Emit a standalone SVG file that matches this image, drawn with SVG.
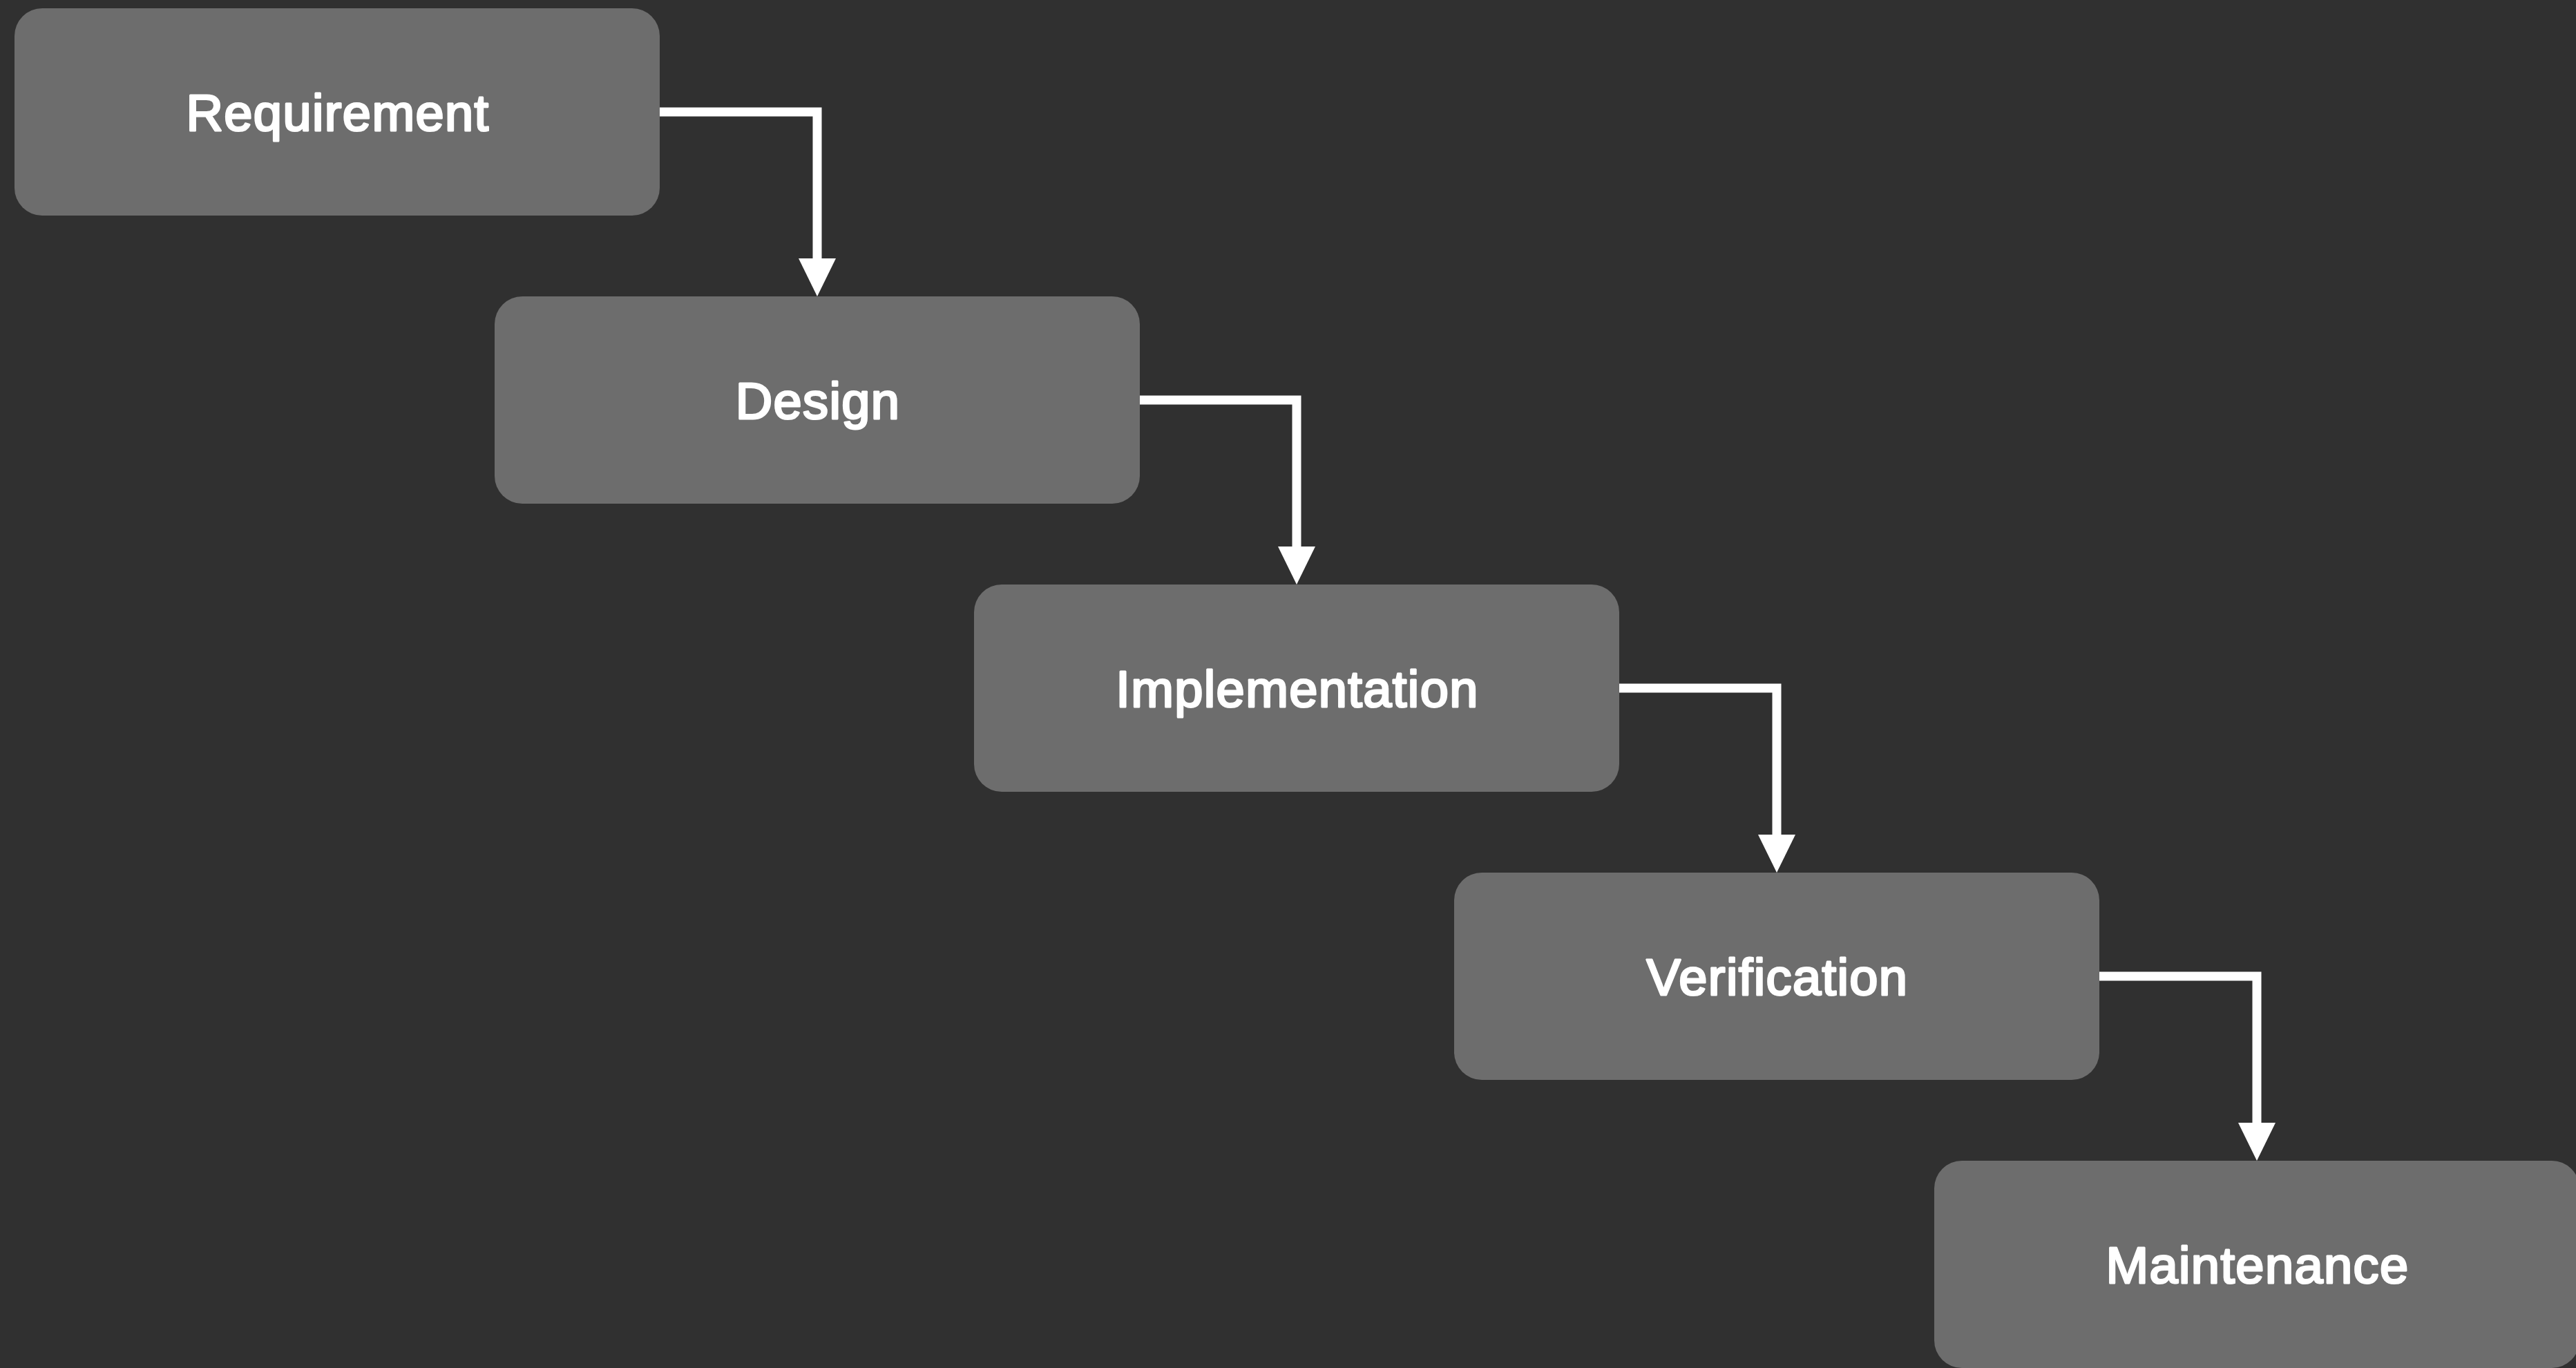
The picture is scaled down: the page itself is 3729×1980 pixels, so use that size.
<svg xmlns="http://www.w3.org/2000/svg" width="3729" height="1980" viewBox="0 0 3729 1980">
  <style>
    .box { fill: #6d6d6d; }
    .label { fill: #ffffff; stroke: #ffffff; stroke-width: 3; stroke-linejoin: round; font-family: "Liberation Sans", Arial, Helvetica, sans-serif; font-size: 74px; letter-spacing: 1.4px; text-anchor: middle; }
    .link { fill: none; stroke: #ffffff; stroke-width: 13; stroke-linejoin: miter; stroke-linecap: butt; marker-end: url(#head); }
  </style>
  <defs>
    <marker id="head" viewBox="0 0 55 54" refX="0" refY="27" markerWidth="55" markerHeight="54" markerUnits="userSpaceOnUse" orient="auto">
      <path d="M0,0 L55,27 L0,54 Z" fill="#ffffff"/>
    </marker>
  </defs>

  <rect width="3729" height="1980" fill="#303030"/>

  <!-- stage boxes, stepping down to the right -->
  <g id="requirement">
    <rect class="box" x="21" y="12" width="934" height="300" rx="40" ry="40"/>
    <text class="label" x="489" y="189">Requirement</text>
  </g>
  <g id="design">
    <rect class="box" x="716" y="429" width="934" height="300" rx="40" ry="40"/>
    <text class="label" x="1184" y="606">Design</text>
  </g>
  <g id="implementation">
    <rect class="box" x="1410" y="846" width="934" height="300" rx="40" ry="40"/>
    <text class="label" x="1878" y="1023">Implementation</text>
  </g>
  <g id="verification">
    <rect class="box" x="2105" y="1263" width="934" height="300" rx="40" ry="40"/>
    <text class="label" x="2573" y="1440">Verification</text>
  </g>
  <g id="maintenance">
    <rect class="box" x="2800" y="1680" width="934" height="300" rx="40" ry="40"/>
    <text class="label" x="3268" y="1857">Maintenance</text>
  </g>

  <!-- elbow connectors between consecutive stages -->
  <g id="connectors">
    <path class="link" d="M955,162 H1183 V374"/>
    <path class="link" d="M1650,579 H1877 V791"/>
    <path class="link" d="M2344,996 H2572 V1208"/>
    <path class="link" d="M3039,1413 H3267 V1625"/>
  </g>
</svg>
